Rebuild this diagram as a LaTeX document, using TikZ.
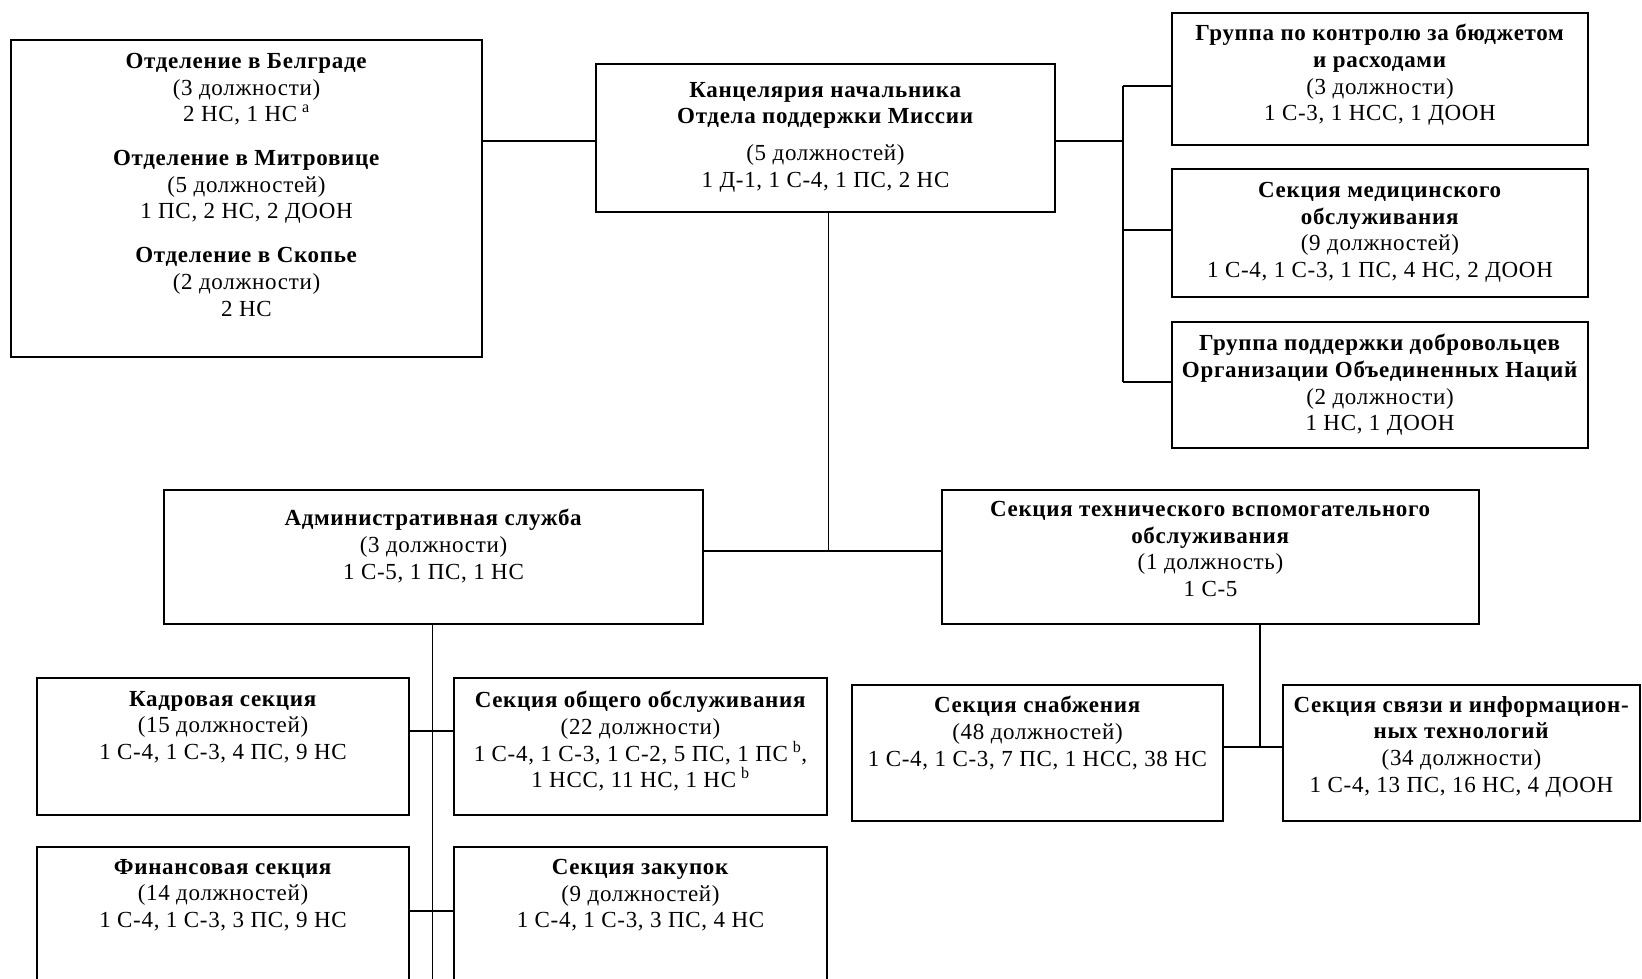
\documentclass[tikz,border=0pt]{standalone}
\usepackage{fontspec}
\setmainfont{Liberation Serif}[LetterSpace=3]
\begin{document}
\begin{tikzpicture}[x=1pt,y=-1pt,
  orgbox/.style={draw=black, line width=1.6pt, rectangle, inner sep=0pt, outer sep=0pt},
  txt/.style={align=center, inner sep=0pt, anchor=north, font=\fontsize{23}{26.7}\selectfont},
  conn/.style={draw=black, line width=1.6pt}]
\useasboundingbox (0,0) rectangle (1642,978);
\clip (0,0) rectangle (1642,978);
\fill[white] (0,0) rectangle (1642,978);

% boxes
\node[orgbox, minimum width=471pt, minimum height=317pt] (belg) at (246.5,198.5) {};
\node[orgbox, minimum width=459pt, minimum height=148pt] (cent) at (825.5,138) {};
\node[orgbox, minimum width=416pt, minimum height=132pt] (rb1) at (1380,79) {};
\node[orgbox, minimum width=416pt, minimum height=128pt] (rb2) at (1380,233) {};
\node[orgbox, minimum width=416pt, minimum height=126pt] (rb3) at (1380,385) {};
\node[orgbox, minimum width=539pt, minimum height=134pt] (admin) at (433.5,557) {};
\node[orgbox, minimum width=537pt, minimum height=134pt] (tech) at (1210.5,557) {};
\node[orgbox, minimum width=372pt, minimum height=137pt] (kadr) at (223,746.5) {};
\node[orgbox, minimum width=373pt, minimum height=137pt] (obsh) at (640.5,746.5) {};
\node[orgbox, minimum width=372pt, minimum height=200pt] (fin) at (223,947) {};
\node[orgbox, minimum width=373pt, minimum height=200pt] (zak) at (640.5,947) {};
\node[orgbox, minimum width=371pt, minimum height=136pt] (snab) at (1037.5,753) {};
\node[orgbox, minimum width=357pt, minimum height=136pt] (svyaz) at (1461.5,753) {};

% texts
\node[txt] (belgT) at (246.5,53) {\textbf{Отделение в Белграде}\\(3 должности)\\2 НС, 1 НС\kern5pt\textsuperscript{a}\\[17pt]
\textbf{Отделение в Митровице}\\(5 должностей)\\1 ПС, 2 НС, 2 ДООН\\[17pt]
\textbf{Отделение в Скопье}\\(2 должности)\\2 НС};
\node[txt] (centT) at (825.5,82) {\textbf{Канцелярия начальника}\\\textbf{Отдела поддержки Миссии}\\[10pt](5 должностей)\\1 Д-1, 1 С-4, 1 ПС, 2 НС};
\node[txt] (rb1T) at (1380,24) {\textbf{Группа по контролю за бюджетом}\\\textbf{и расходами}\\(3 должности)\\1 С-3, 1 НСС, 1 ДООН};
\node[txt] (rb2T) at (1380,182) {\textbf{Секция медицинского}\\\textbf{обслуживания}\\(9 должностей)\\1 С-4, 1 С-3, 1 ПС, 4 НС, 2 ДООН};
\node[txt] (rb3T) at (1380,334) {\textbf{Группа поддержки добровольцев}\\\textbf{Организации Объединенных Наций}\\(2 должности)\\1 НС, 1 ДООН};
\node[txt] (adminT) at (433.5,509) {\textbf{Административная служба}\\(3 должности)\\1 С-5, 1 ПС, 1 НС};
\node[txt] (techT) at (1210.5,501) {\textbf{Секция технического вспомогательного}\\\textbf{обслуживания}\\(1 должность)\\1 С-5};
\node[txt] (kadrT) at (223,691) {\textbf{Кадровая секция}\\(15 должностей)\\1 С-4, 1 С-3, 4 ПС, 9 НС};
\node[txt] (obshT) at (640.5,691) {\textbf{Секция общего обслуживания}\\(22 должности)\\1 С-4, 1 С-3, 1 С-2, 5 ПС, 1 ПС\kern5pt\textsuperscript{b},\\1 НСС, 11 НС, 1 НС\kern5pt\textsuperscript{b}};
\node[txt] (finT) at (223,859) {\textbf{Финансовая секция}\\(14 должностей)\\1 С-4, 1 С-3, 3 ПС, 9 НС};
\node[txt] (zakT) at (640.5,859) {\textbf{Секция закупок}\\(9 должностей)\\1 С-4, 1 С-3, 3 ПС, 4 НС};
\node[txt] (snabT) at (1037.5,696) {\textbf{Секция снабжения}\\(48 должностей)\\1 С-4, 1 С-3, 7 ПС, 1 НСС, 38 НС};
\node[txt] (svyazT) at (1461.5,696) {\textbf{Секция связи и информацион-}\\\textbf{ных технологий}\\(34 должности)\\1 С-4, 13 ПС, 16 НС, 4 ДООН};

% connectors
\coordinate (yA) at (0,141);
\draw[conn] (belg.east |- yA) -- (cent.west |- yA);
\coordinate (bus) at (1123,141);
\draw[conn] (cent.east |- yA) -- (bus);
\coordinate (busTop) at (1123,86);
\coordinate (bus2) at (1123,230);
\coordinate (busBot) at (1123,382);
\draw[conn] (busTop) -- (busBot);
\draw[conn] (busTop) -- (rb1.west |- busTop);
\draw[conn] (bus2) -- (rb2.west |- bus2);
\draw[conn] (busBot) -- (rb3.west |- busBot);

\coordinate (j2) at (828.5,551);
\draw[conn] (cent.south -| j2) -- (j2);
\draw[conn] (admin.east |- j2) -- (tech.west |- j2);

\coordinate (j3) at (432.5,990);
\draw[conn] (admin.south -| j3) -- (j3);
\coordinate (j4) at (432.5,731);
\draw[conn] (kadr.east |- j4) -- (obsh.west |- j4);
\coordinate (j5) at (432.5,911);
\draw[conn] (fin.east |- j5) -- (zak.west |- j5);

\coordinate (j6) at (1260,747);
\draw[conn] (tech.south -| j6) -- (j6);
\draw[conn] (snab.east |- j6) -- (svyaz.west |- j6);
\end{tikzpicture}
\end{document}
